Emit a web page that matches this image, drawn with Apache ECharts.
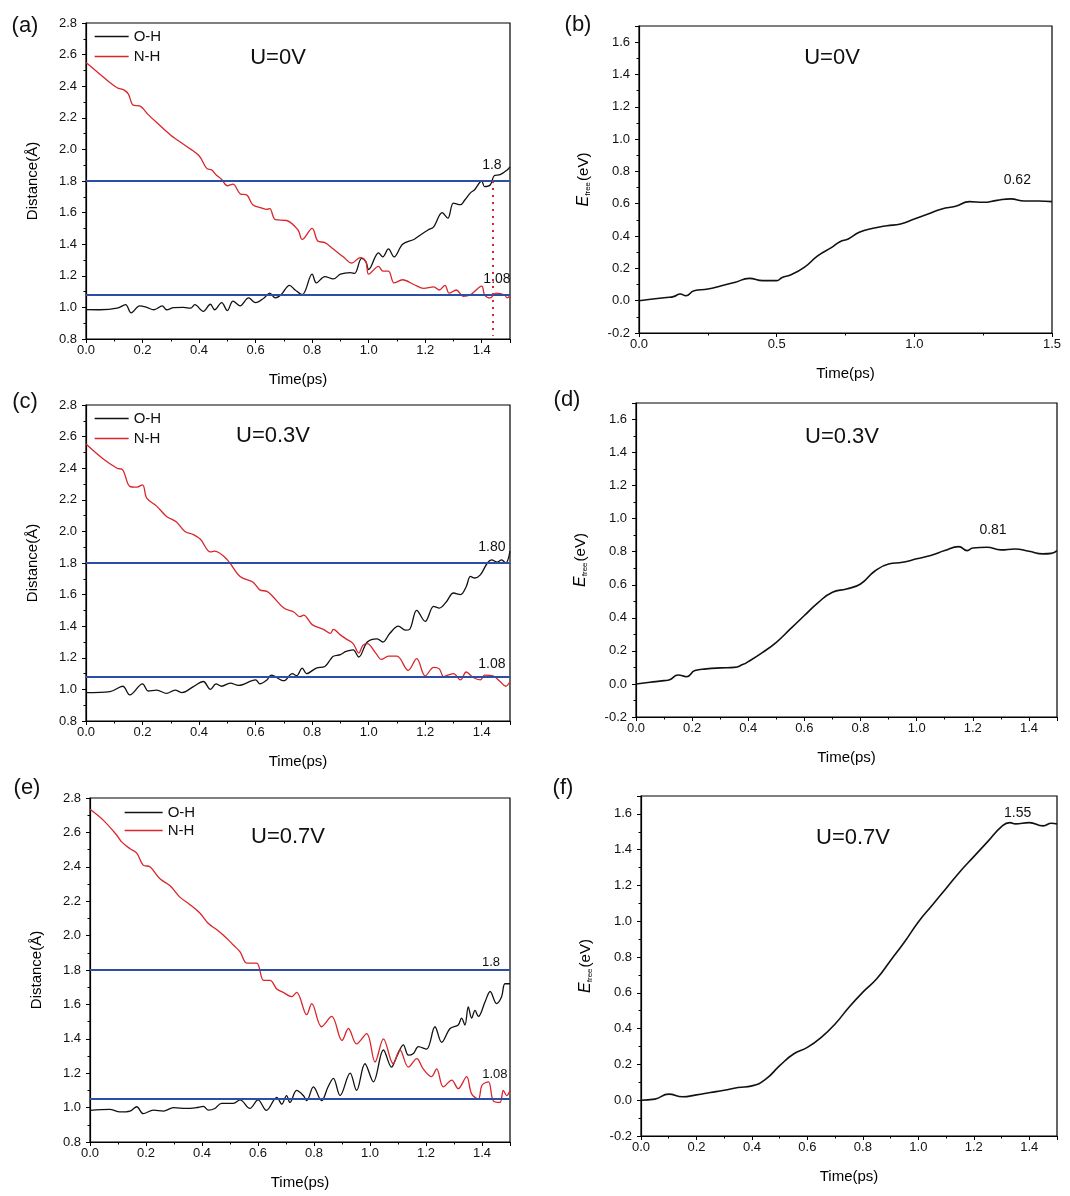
<!DOCTYPE html>
<html><head><meta charset="utf-8">
<script src="https://cdn.jsdelivr.net/npm/echarts@6/dist/echarts.min.js"></script>
<style>html,body{margin:0;padding:0;background:#fff}#c{width:1070px;height:1196px}</style>
</head><body><div id="c"></div>
<script>
// ---------- DATA ----------
const aOH = [[0,0.986],[0.05,0.985],[0.11,0.995],[0.14,1.017],[0.16,0.965],[0.19,1.01],[0.215,1.0],[0.24,0.985],[0.27,1.01],[0.285,0.985],[0.31,0.998],[0.345,1.0],[0.37,0.995],[0.385,1.017],[0.415,0.975],[0.44,1.02],[0.455,0.985],[0.48,1.03],[0.5,0.98],[0.52,1.04],[0.545,1.01],[0.575,1.06],[0.6,1.03],[0.63,1.06],[0.65,1.09],[0.67,1.06],[0.69,1.08],[0.72,1.14],[0.74,1.11],[0.765,1.08],[0.8,1.21],[0.815,1.155],[0.845,1.195],[0.875,1.18],[0.9,1.21],[0.935,1.22],[0.95,1.215],[0.975,1.31],[0.99,1.29],[1.0,1.24],[1.035,1.345],[1.05,1.32],[1.07,1.37],[1.09,1.32],[1.12,1.40],[1.16,1.43],[1.18,1.455],[1.21,1.49],[1.23,1.51],[1.26,1.60],[1.28,1.565],[1.3,1.66],[1.325,1.65],[1.34,1.68],[1.36,1.725],[1.375,1.745],[1.4,1.80],[1.41,1.765],[1.43,1.775],[1.445,1.835],[1.465,1.84],[1.49,1.87],[1.5,1.89]];
const aNH = [[0,2.55],[0.04,2.49],[0.08,2.43],[0.11,2.39],[0.135,2.375],[0.15,2.35],[0.167,2.28],[0.19,2.275],[0.22,2.22],[0.25,2.17],[0.3,2.09],[0.355,2.02],[0.4,1.96],[0.427,1.88],[0.445,1.87],[0.46,1.84],[0.48,1.81],[0.5,1.77],[0.52,1.78],[0.545,1.72],[0.57,1.71],[0.59,1.65],[0.62,1.63],[0.64,1.62],[0.65,1.625],[0.67,1.555],[0.71,1.55],[0.75,1.49],[0.765,1.43],[0.8,1.50],[0.82,1.42],[0.845,1.41],[0.875,1.37],[0.91,1.32],[0.94,1.28],[0.97,1.315],[0.99,1.29],[1.0,1.21],[1.035,1.26],[1.05,1.23],[1.07,1.23],[1.09,1.155],[1.12,1.175],[1.16,1.145],[1.195,1.12],[1.23,1.13],[1.25,1.11],[1.27,1.14],[1.285,1.09],[1.31,1.11],[1.335,1.07],[1.36,1.08],[1.4,1.135],[1.41,1.08],[1.43,1.06],[1.45,1.09],[1.48,1.08],[1.49,1.06],[1.5,1.075]];
const cOH = [[0,0.98],[0.085,0.986],[0.13,1.02],[0.155,0.965],[0.2,1.035],[0.22,0.99],[0.25,0.996],[0.285,0.975],[0.315,0.996],[0.34,0.98],[0.38,1.018],[0.415,1.05],[0.44,1.0],[0.46,1.035],[0.48,1.02],[0.51,1.04],[0.54,1.025],[0.6,1.06],[0.615,1.035],[0.64,1.06],[0.655,1.09],[0.7,1.055],[0.73,1.10],[0.745,1.087],[0.765,1.135],[0.78,1.10],[0.815,1.135],[0.845,1.145],[0.865,1.19],[0.875,1.21],[0.9,1.22],[0.92,1.24],[0.945,1.25],[0.965,1.205],[0.995,1.30],[1.03,1.32],[1.05,1.30],[1.075,1.355],[1.105,1.40],[1.13,1.375],[1.145,1.38],[1.17,1.50],[1.2,1.43],[1.23,1.525],[1.25,1.515],[1.275,1.555],[1.3,1.61],[1.325,1.60],[1.345,1.65],[1.36,1.715],[1.375,1.705],[1.395,1.725],[1.42,1.80],[1.435,1.82],[1.455,1.805],[1.47,1.82],[1.485,1.80],[1.5,1.875]];
const cNH = [[0,2.553],[0.06,2.46],[0.11,2.40],[0.13,2.39],[0.155,2.285],[0.18,2.28],[0.2,2.295],[0.215,2.21],[0.25,2.16],[0.285,2.095],[0.32,2.06],[0.35,2.0],[0.38,1.98],[0.405,1.95],[0.44,1.87],[0.455,1.875],[0.5,1.82],[0.545,1.715],[0.59,1.68],[0.615,1.63],[0.64,1.62],[0.66,1.59],[0.7,1.515],[0.735,1.49],[0.757,1.46],[0.77,1.47],[0.8,1.41],[0.84,1.38],[0.865,1.355],[0.875,1.38],[0.9,1.345],[0.92,1.32],[0.945,1.29],[0.965,1.23],[0.98,1.28],[0.995,1.29],[1.025,1.23],[1.045,1.19],[1.07,1.21],[1.1,1.21],[1.14,1.12],[1.17,1.195],[1.2,1.085],[1.23,1.14],[1.25,1.13],[1.265,1.08],[1.28,1.09],[1.3,1.10],[1.325,1.06],[1.345,1.11],[1.37,1.075],[1.395,1.06],[1.41,1.09],[1.44,1.085],[1.465,1.05],[1.485,1.02],[1.5,1.05]];
const eOH = [[0,0.984],[0.07,0.99],[0.107,0.975],[0.143,0.98],[0.167,1.005],[0.19,0.965],[0.226,0.985],[0.262,0.98],[0.298,1.0],[0.345,0.995],[0.38,1.0],[0.405,1.007],[0.423,0.985],[0.446,0.995],[0.47,1.025],[0.512,1.025],[0.536,1.045],[0.571,0.995],[0.6,1.045],[0.63,0.984],[0.667,1.06],[0.685,1.02],[0.702,1.07],[0.714,1.03],[0.738,1.10],[0.762,1.07],[0.774,1.04],[0.798,1.12],[0.827,1.04],[0.85,1.12],[0.869,1.17],[0.893,1.07],[0.929,1.20],[0.952,1.10],[0.982,1.255],[1.012,1.15],[1.048,1.335],[1.077,1.235],[1.095,1.295],[1.119,1.365],[1.137,1.305],[1.155,1.315],[1.173,1.355],[1.202,1.34],[1.232,1.47],[1.256,1.38],[1.286,1.46],[1.315,1.48],[1.327,1.52],[1.339,1.48],[1.351,1.585],[1.363,1.52],[1.375,1.565],[1.387,1.53],[1.411,1.615],[1.429,1.675],[1.452,1.605],[1.47,1.645],[1.482,1.72],[1.5,1.72]];
const eNH = [[0,2.734],[0.048,2.67],[0.095,2.585],[0.113,2.545],[0.143,2.505],[0.167,2.48],[0.19,2.41],[0.214,2.40],[0.25,2.33],[0.286,2.29],[0.32,2.225],[0.357,2.18],[0.393,2.13],[0.423,2.07],[0.452,2.035],[0.488,1.985],[0.512,1.945],[0.536,1.905],[0.56,1.84],[0.595,1.84],[0.62,1.74],[0.643,1.74],[0.667,1.69],[0.69,1.67],[0.72,1.645],[0.738,1.67],[0.774,1.54],[0.792,1.605],[0.827,1.47],[0.863,1.53],[0.9,1.39],[0.923,1.46],[0.952,1.37],[0.988,1.43],[1.018,1.265],[1.048,1.40],[1.083,1.255],[1.107,1.335],[1.137,1.235],[1.167,1.285],[1.19,1.225],[1.22,1.18],[1.238,1.225],[1.262,1.12],[1.292,1.16],[1.315,1.11],[1.345,1.18],[1.363,1.08],[1.387,1.05],[1.4,1.13],[1.423,1.15],[1.44,1.04],[1.464,1.03],[1.476,1.10],[1.488,1.07],[1.5,1.10]];
const bE = [[0,0],[0.05,0.01],[0.1,0.02],[0.125,0.025],[0.15,0.041],[0.17,0.031],[0.2,0.062],[0.25,0.072],[0.3,0.093],[0.35,0.114],[0.4,0.138],[0.45,0.124],[0.5,0.124],[0.52,0.144],[0.55,0.159],[0.6,0.206],[0.65,0.279],[0.7,0.33],[0.73,0.365],[0.76,0.382],[0.8,0.423],[0.85,0.448],[0.9,0.464],[0.95,0.475],[1.0,0.506],[1.05,0.537],[1.1,0.568],[1.15,0.584],[1.2,0.613],[1.25,0.609],[1.3,0.621],[1.35,0.63],[1.4,0.617],[1.45,0.617],[1.5,0.613]];
const dE = [[0,0],[0.05,0.01],[0.1,0.02],[0.12,0.026],[0.15,0.054],[0.18,0.044],[0.21,0.081],[0.25,0.091],[0.3,0.097],[0.35,0.1],[0.38,0.117],[0.4,0.135],[0.45,0.19],[0.5,0.252],[0.55,0.333],[0.6,0.414],[0.65,0.494],[0.7,0.555],[0.75,0.575],[0.8,0.605],[0.85,0.682],[0.9,0.726],[0.95,0.736],[1.0,0.757],[1.05,0.777],[1.1,0.807],[1.15,0.831],[1.18,0.807],[1.2,0.823],[1.25,0.827],[1.3,0.811],[1.35,0.817],[1.4,0.803],[1.45,0.787],[1.48,0.79],[1.5,0.807]];
const fE = [[0,0],[0.05,0.006],[0.1,0.034],[0.15,0.019],[0.2,0.03],[0.25,0.043],[0.3,0.056],[0.35,0.071],[0.4,0.08],[0.45,0.118],[0.5,0.193],[0.55,0.258],[0.6,0.295],[0.65,0.351],[0.7,0.426],[0.75,0.52],[0.8,0.604],[0.85,0.679],[0.9,0.781],[0.95,0.884],[1.0,0.996],[1.05,1.09],[1.1,1.183],[1.15,1.277],[1.2,1.361],[1.25,1.445],[1.3,1.529],[1.33,1.551],[1.35,1.544],[1.4,1.551],[1.45,1.533],[1.48,1.548],[1.5,1.544]];

// reference lines and annotations (data coordinates)
const refA = [1.8, 1.08], refC = [1.8, 1.08], refE = [1.8, 1.05];
const dropA = [1.44, 1.8, 0.82];
const annA = [[1.436, 1.903, '1.8'], [1.454, 1.182, '1.08']];
const annC = [[1.436, 1.901, '1.80'], [1.436, 1.161, '1.08']];
const annE = [[1.432, 1.846, '1.8'], [1.446, 1.194, '1.08']];
const annB = [[1.374, 0.743, '0.62']];
const annD = [[1.272, 0.932, '0.81']];
const annF = [[1.358, 1.607, '1.55']];
const panelLabels = ['(a)', '(b)', '(c)', '(d)', '(e)', '(f)'];
const voltLabels = ['U=0V', 'U=0V', 'U=0.3V', 'U=0.3V', 'U=0.7V', 'U=0.7V'];

// ---------- STYLE / LAYOUT ----------
const FONT = '"Liberation Sans", Arial, Helvetica, sans-serif';
const RED = '#d8262b', BLUE = '#2c4fa3', BLACK = '#111';
const grids = [
  {left: 86, top: 23, width: 424, height: 316},
  {left: 639, top: 26, width: 413, height: 307},
  {left: 86, top: 405, width: 424, height: 316},
  {left: 636, top: 403, width: 421, height: 314},
  {left: 90, top: 798, width: 420, height: 344},
  {left: 641, top: 796, width: 416, height: 340}
];
const panelPos = [[25, 26], [578, 25], [25, 402], [567, 400], [27, 788], [563, 788]];
const voltPos = [[278, 58], [832, 58], [273, 436], [842, 437], [288, 837], [853, 838]];

function xAxis(i, interval) {
  return {
    type: 'value', gridIndex: i, min: 0, max: 1.5, interval: interval,
    name: 'Time(ps)', nameLocation: 'middle', nameGap: 33,
    nameTextStyle: {fontFamily: FONT, fontSize: 15, color: '#000'},
    axisLine: {show: true, onZero: false, lineStyle: {color: '#000', width: 1.2}},
    axisTick: {show: true, inside: false, length: 4, lineStyle: {color: '#000', width: 1}},
    minorTick: {show: true, splitNumber: 2, length: 2.5, lineStyle: {color: '#000', width: 1}},
    splitLine: {show: false}, minorSplitLine: {show: false},
    axisLabel: {fontFamily: FONT, fontSize: 13, color: '#111', margin: 5,
      showMaxLabel: interval === 0.5, showMinLabel: true,
      formatter: v => v.toFixed(1)}
  };
}
function yAxis(i, kind) {
  const isDist = kind === 'dist';
  return {
    type: 'value', gridIndex: i,
    min: isDist ? 0.8 : -0.2, max: isDist ? 2.8 : 1.7, interval: 0.2,
    name: isDist ? 'Distance(Å)' : '{i|E}{s|free}{n|(eV)}',
    nameLocation: 'middle', nameRotate: 90, nameGap: isDist ? 46 : 47,
    nameTextStyle: {fontFamily: FONT, fontSize: 15, color: '#000',
      rich: {
        i: {fontFamily: FONT, fontSize: 16, fontStyle: 'italic', color: '#000'},
        s: {fontFamily: FONT, fontSize: 8, color: '#000', verticalAlign: 'bottom', padding: [0, 1, 0, 0]},
        n: {fontFamily: FONT, fontSize: 15, color: '#000'}
      }},
    axisLine: {show: true, onZero: false, lineStyle: {color: '#000', width: 1.2}},
    axisTick: {show: true, inside: false, length: 4, lineStyle: {color: '#000', width: 1}},
    minorTick: {show: true, splitNumber: 2, length: 2.5, lineStyle: {color: '#000', width: 1}},
    splitLine: {show: false}, minorSplitLine: {show: false},
    axisLabel: {fontFamily: FONT, fontSize: 13, color: '#111', margin: 9,
      showMaxLabel: isDist, formatter: v => v.toFixed(1)}
  };
}
function annMark(list, size) {
  return {
    symbol: 'circle', symbolSize: 1, silent: true,
    itemStyle: {color: 'rgba(0,0,0,0)'},
    label: {show: true, position: 'inside', fontFamily: FONT, fontSize: size, color: '#111'},
    data: list.map(a => ({coord: [a[0], a[1]], label: {formatter: a[2]}}))
  };
}
function refMark(vals) {
  return {
    symbol: ['none', 'none'], silent: true, animation: false,
    lineStyle: {color: BLUE, width: 2, type: 'solid'},
    label: {show: false},
    data: vals.map(v => ({yAxis: v}))
  };
}
function lineSeries(name, data, color, gi, extra) {
  return Object.assign({
    name: name, type: 'line', xAxisIndex: gi, yAxisIndex: gi,
    data: data, symbol: 'none', showSymbol: false, smooth: 0.35,
    lineStyle: {color: color, width: 1.3}, itemStyle: {color: color},
    animation: false, z: 3
  }, extra || {});
}

const series = [
  lineSeries('O-H', aOH, BLACK, 0, {markLine: refMark(refA)}),
  lineSeries('N-H', aNH, RED, 0, {
    markPoint: annMark(annA, 14),
    markLine: {symbol: ['none', 'none'], silent: true, animation: false,
      lineStyle: {color: RED, width: 2, type: [2, 5]}, label: {show: false},
      data: [[{coord: [dropA[0], dropA[1]]}, {coord: [dropA[0], dropA[2]]}]]}
  }),
  lineSeries('E', bE, BLACK, 1, {smooth: 0.5, lineStyle: {color: BLACK, width: 1.6}, markPoint: annMark(annB, 14)}),
  lineSeries('O-H', cOH, BLACK, 2, {markLine: refMark(refC)}),
  lineSeries('N-H', cNH, RED, 2, {markPoint: annMark(annC, 14)}),
  lineSeries('E', dE, BLACK, 3, {smooth: 0.5, lineStyle: {color: BLACK, width: 1.6}, markPoint: annMark(annD, 14)}),
  lineSeries('O-H', eOH, BLACK, 4, {markLine: refMark(refE)}),
  lineSeries('N-H', eNH, RED, 4, {markPoint: annMark(annE, 13)}),
  lineSeries('E', fE, BLACK, 5, {smooth: 0.5, lineStyle: {color: BLACK, width: 1.6}, markPoint: annMark(annF, 14)})
];

function legend(left, top, w, gap) {
  return {
    data: ['O-H', 'N-H'], orient: 'vertical', left: left, top: top,
    itemWidth: w, itemHeight: 12, itemGap: gap, padding: 0,
    itemStyle: {opacity: 0, borderWidth: 0},
    lineStyle: {width: 1.3},
    textStyle: {fontFamily: FONT, fontSize: 15, color: '#111'},
    selectedMode: false
  };
}

const graphic = [];
panelLabels.forEach((t, k) => graphic.push({
  type: 'text', x: panelPos[k][0], y: panelPos[k][1], silent: true,
  style: {text: t, fontFamily: FONT, fontSize: 22, fill: '#111',
    textAlign: 'center', textVerticalAlign: 'middle', align: 'center', verticalAlign: 'middle'}
}));
voltLabels.forEach((t, k) => graphic.push({
  type: 'text', x: voltPos[k][0], y: voltPos[k][1], silent: true,
  style: {text: t, fontFamily: FONT, fontSize: 22, fill: '#111',
    textAlign: 'center', textVerticalAlign: 'middle', align: 'center', verticalAlign: 'middle'}
}));

const option = {
  backgroundColor: '#fff',
  animation: false,
  grid: grids.map(g => Object.assign({show: true, borderColor: '#000', borderWidth: 1.2,
    backgroundColor: 'rgba(0,0,0,0)', containLabel: false, outerBoundsMode: 'none'}, g)),
  xAxis: [xAxis(0, 0.2), xAxis(1, 0.5), xAxis(2, 0.2), xAxis(3, 0.2), xAxis(4, 0.2), xAxis(5, 0.2)],
  yAxis: [yAxis(0, 'dist'), yAxis(1, 'e'), yAxis(2, 'dist'), yAxis(3, 'e'), yAxis(4, 'dist'), yAxis(5, 'e')],
  legend: [legend(94, 29, 34, 5), legend(94, 411, 34, 5), legend(124, 805, 38, 3)],
  graphic: graphic,
  series: series
};
const chart = echarts.init(document.getElementById('c'));
chart.setOption(option);
</script></body></html>
